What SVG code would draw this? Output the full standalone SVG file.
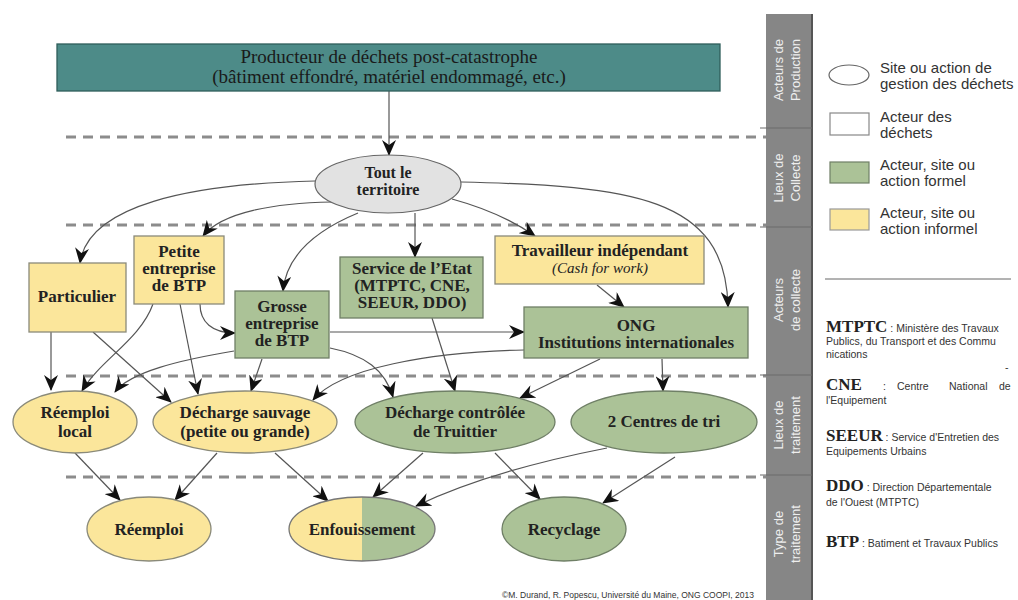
<svg xmlns="http://www.w3.org/2000/svg" width="1018" height="600" viewBox="0 0 1018 600">
<defs>
<style>
.nt{font-family:"Liberation Serif",serif;font-weight:bold;font-size:17px;fill:#222;text-anchor:middle}
.lg{font-family:"Liberation Sans",Arial,sans-serif;font-size:15px;fill:#333}
.ab{font-family:"Liberation Serif",serif;font-weight:bold;font-size:17px;fill:#222}
.as{font-family:"Liberation Sans",Arial,sans-serif;font-size:10.5px;fill:#333}
.sb{font-family:"Liberation Sans",Arial,sans-serif;font-size:13px;fill:#eee;text-anchor:middle}
.yel{fill:#fbe69b;stroke:#8a8a7a;stroke-width:1.3}
.grn{fill:#abc297;stroke:#6f7f66;stroke-width:1.3}
.dash{stroke:#8c8c8c;stroke-width:3;stroke-dasharray:10 7;fill:none}
.cn{fill:none;stroke:#555;stroke-width:1.2;marker-end:url(#ah)}
</style>
<marker id="ah" viewBox="0 0 16 14" refX="15" refY="7" markerWidth="16" markerHeight="14" markerUnits="userSpaceOnUse" orient="auto">
<path d="M0,0 L16,7 L0,14 L5,7 z" fill="#111"/>
</marker>
<clipPath id="encl"><rect x="280" y="490" width="82" height="80"/></clipPath>
</defs>
<rect width="1018" height="600" fill="#fff"/>

<g id="bands">
<line class="dash" x1="66" y1="137" x2="766" y2="137"/>
<line class="dash" x1="66" y1="225" x2="766" y2="225"/>
<line class="dash" x1="66" y1="376" x2="766" y2="376"/>
<line class="dash" x1="66" y1="477" x2="766" y2="477"/>
</g>

<g id="sidebar">
<rect x="766" y="14" width="46" height="586" fill="#868686"/>
<line x1="812" y1="14" x2="812" y2="600" stroke="#555" stroke-width="2"/>
<g stroke="#6a6a6a" stroke-width="1.2">
<line x1="760" y1="128" x2="812" y2="128"/>
<line x1="760" y1="227" x2="812" y2="227"/>
<line x1="760" y1="375" x2="812" y2="375"/>
<line x1="760" y1="475" x2="812" y2="475"/>
</g>
<text class="sb" transform="translate(783,70) rotate(-90)">Acteurs de</text>
<text class="sb" transform="translate(800,70) rotate(-90)">Production</text>
<text class="sb" transform="translate(783,178) rotate(-90)">Lieux de</text>
<text class="sb" transform="translate(800,178) rotate(-90)">Collecte</text>
<text class="sb" transform="translate(783,300) rotate(-90)">Acteurs</text>
<text class="sb" transform="translate(800,300) rotate(-90)">de collecte</text>
<text class="sb" transform="translate(783,425) rotate(-90)">Lieux de</text>
<text class="sb" transform="translate(800,425) rotate(-90)">traitement</text>
<text class="sb" transform="translate(783,534) rotate(-90)">Type de</text>
<text class="sb" transform="translate(800,534) rotate(-90)">traitement</text>
</g>

<g id="legend">
<ellipse cx="849" cy="75" rx="20" ry="10" fill="#fff" stroke="#666" stroke-width="1.2"/>
<text class="lg" x="880" y="73">Site ou action de</text>
<text class="lg" x="880" y="89">gestion des déchets</text>
<rect x="830" y="113" width="39" height="22" fill="#fff" stroke="#888" stroke-width="1.2"/>
<text class="lg" x="880" y="122">Acteur des</text>
<text class="lg" x="880" y="138">déchets</text>
<rect x="830" y="162" width="39" height="21" fill="#abc297" stroke="#6f7f66" stroke-width="1.2"/>
<text class="lg" x="880" y="170">Acteur, site ou</text>
<text class="lg" x="880" y="186">action formel</text>
<rect x="830" y="209" width="39" height="21" fill="#fbe69b" stroke="#999" stroke-width="1.2"/>
<text class="lg" x="880" y="218">Acteur, site ou</text>
<text class="lg" x="880" y="234">action informel</text>
<line x1="825" y1="279" x2="1011" y2="279" stroke="#666" stroke-width="1"/>
</g>

<g id="abbreviations">
<text x="826" y="332"><tspan class="ab">MTPTC</tspan><tspan class="as"> : Ministère des Travaux</tspan></text>
<text class="as" x="826" y="345">Publics, du Transport et des Commu</text>
<text class="as" x="826" y="358">nications</text>
<text class="as" x="1005" y="371">-</text>
<text class="ab" x="826" y="390">CNE</text>
<text class="as" x="883" y="390">:</text>
<text class="as" x="897" y="390">Centre</text>
<text class="as" x="949" y="390">National</text>
<text class="as" x="999" y="390">de</text>
<text class="as" x="826" y="404">l'Equipement</text>
<text x="826" y="441"><tspan class="ab">SEEUR</tspan><tspan class="as"> : Service d'Entretien des</tspan></text>
<text class="as" x="826" y="455">Equipements Urbains</text>
<text x="826" y="491"><tspan class="ab">DDO</tspan><tspan class="as"> : Direction Départementale</tspan></text>
<text class="as" x="826" y="506">de l'Ouest (MTPTC)</text>
<text x="826" y="547"><tspan class="ab">BTP</tspan><tspan class="as"> : Batiment et Travaux Publics</tspan></text>
</g>

<g id="connectors">
<path class="cn" d="M389,91 L389,155"/>
<path class="cn" d="M315,181 C190,184 88,205 80,263"/>
<path class="cn" d="M332,202 C275,203 222,212 203,236"/>
<path class="cn" d="M358,213 C312,232 286,258 283,291"/>
<path class="cn" d="M415,213 L415,257"/>
<path class="cn" d="M452,199 C485,208 512,220 535,236"/>
<path class="cn" d="M461,182 C630,186 726,196 728,307"/>
<path class="cn" d="M597,285 L624,307"/>
<path class="cn" d="M200,304 C200,322 212,333 235,333"/>
<path class="cn" d="M153,304 C140,340 100,360 82,391"/>
<path class="cn" d="M234,351 C180,360 130,372 115,392"/>
<path class="cn" d="M51,332 L51,390"/>
<path class="cn" d="M93,332 L171,402"/>
<path class="cn" d="M180,304 L198,394"/>
<path class="cn" d="M262,359 L251,391"/>
<path class="cn" d="M330,332 L524,332"/>
<path class="cn" d="M330,348 C365,355 385,370 393,397"/>
<path class="cn" d="M524,350 C430,352 340,368 313,400"/>
<path class="cn" d="M432,318 L455,391"/>
<path class="cn" d="M600,359 L520,398"/>
<path class="cn" d="M662,359 L663,391"/>
<path class="cn" d="M75,453 L120,500"/>
<path class="cn" d="M217,453 L175,500"/>
<path class="cn" d="M275,453 L328,501"/>
<path class="cn" d="M423,453 L373,497"/>
<path class="cn" d="M607,448 C520,465 460,485 416,506"/>
<path class="cn" d="M495,453 L540,499"/>
<path class="cn" d="M675,457 L603,503"/>
</g>

<g id="producteur">
<rect x="57" y="44" width="663" height="47" fill="#4d8b88" stroke="#2f5e5b" stroke-width="1.3"/>
<text x="389" y="63" font-family="Liberation Serif,serif" font-size="19" fill="#1a1a1a" text-anchor="middle">Producteur de déchets post-catastrophe</text>
<text x="389" y="83" font-family="Liberation Serif,serif" font-size="19" fill="#1a1a1a" text-anchor="middle">(bâtiment effondré, matériel endommagé, etc.)</text>
</g>

<g id="territoire">
<ellipse cx="388" cy="184" rx="73" ry="29" fill="#e2e2e2" stroke="#666" stroke-width="1.2"/>
<text class="nt" style="font-size:16px" x="388" y="178">Tout le</text>
<text class="nt" style="font-size:16px" x="388" y="195">territoire</text>
</g>

<g id="particulier">
<rect class="yel" x="29" y="263" width="97" height="69"/>
<text class="nt" x="77" y="302">Particulier</text>
</g>

<g id="petite">
<rect class="yel" x="134" y="236" width="90" height="68"/>
<text class="nt" x="179" y="257">Petite</text>
<text class="nt" x="179" y="274">entreprise</text>
<text class="nt" x="179" y="291">de BTP</text>
</g>

<g id="grosse">
<rect class="grn" x="235" y="291" width="94" height="67"/>
<text class="nt" x="282" y="312">Grosse</text>
<text class="nt" x="282" y="329">entreprise</text>
<text class="nt" x="282" y="346">de BTP</text>
</g>

<g id="service">
<rect class="grn" x="340" y="257" width="143" height="61"/>
<text class="nt" x="412" y="274">Service de l’Etat</text>
<text class="nt" x="412" y="291">(MTPTC, CNE,</text>
<text class="nt" x="412" y="308">SEEUR, DDO)</text>
</g>

<g id="travailleur">
<rect class="yel" x="495" y="236" width="209" height="48"/>
<text class="nt" x="600" y="256">Travailleur indépendant</text>
<text x="600" y="273" font-family="Liberation Serif,serif" font-style="italic" font-size="15" fill="#222" text-anchor="middle">(Cash for work)</text>
</g>

<g id="ong">
<rect class="grn" x="524" y="307" width="224" height="51"/>
<text class="nt" x="636" y="331">ONG</text>
<text class="nt" x="636" y="348">Institutions internationales</text>
</g>

<g id="reemploi-local">
<ellipse class="yel" cx="75" cy="422" rx="62" ry="31"/>
<text class="nt" x="75" y="418">Réemploi</text>
<text class="nt" x="75" y="437">local</text>
</g>

<g id="decharge-sauvage">
<ellipse class="yel" cx="245" cy="422" rx="92" ry="31"/>
<text class="nt" x="245" y="418">Décharge sauvage</text>
<text class="nt" x="245" y="437">(petite ou grande)</text>
</g>

<g id="decharge-controlee">
<ellipse class="grn" cx="455" cy="422" rx="100" ry="31"/>
<text class="nt" x="455" y="418">Décharge contrôlée</text>
<text class="nt" x="455" y="437">de Truittier</text>
</g>

<g id="centres-tri">
<ellipse class="grn" cx="664" cy="422" rx="93" ry="31"/>
<text class="nt" x="664" y="427">2 Centres de tri</text>
</g>

<g id="reemploi">
<ellipse class="yel" cx="149" cy="529" rx="62" ry="32"/>
<text class="nt" x="149" y="535">Réemploi</text>
</g>

<g id="enfouissement">
<ellipse cx="362" cy="529" rx="73" ry="32" fill="#abc297"/>
<ellipse cx="362" cy="529" rx="73" ry="32" fill="#fbe69b" clip-path="url(#encl)"/>
<ellipse cx="362" cy="529" rx="73" ry="32" fill="none" stroke="#777" stroke-width="1.3"/>
<text class="nt" x="362" y="535">Enfouissement</text>
</g>

<g id="recyclage">
<ellipse class="grn" cx="564" cy="529" rx="62" ry="32"/>
<text class="nt" x="564" y="535">Recyclage</text>
</g>

<text x="628" y="598" font-family="Liberation Sans,Arial,sans-serif" font-size="8.5" fill="#333" text-anchor="middle">©M. Durand, R. Popescu, Université du Maine, ONG COOPI, 2013</text>
</svg>
